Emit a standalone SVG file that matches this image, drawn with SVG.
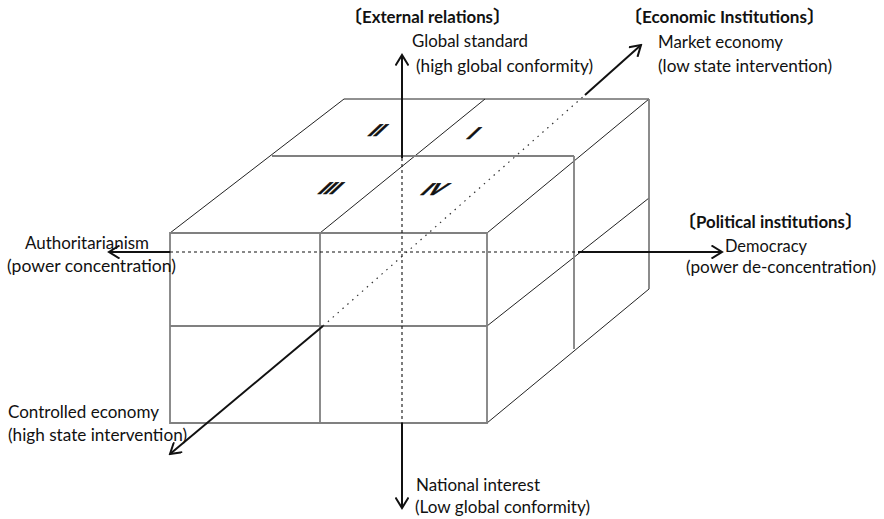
<svg xmlns="http://www.w3.org/2000/svg" width="884" height="519" viewBox="0 0 884 519">
<style>
.bg{fill:#fff}
.face{fill:none;stroke:#808080;stroke-width:1.8}
.edge{fill:none;stroke:#222;stroke-width:1}
.axis{fill:none;stroke:#111;stroke-width:2}
.dash{fill:none;stroke:#111;stroke-width:1.1;stroke-dasharray:3 3}
.dot{fill:none;stroke:#333;stroke-width:1.2;stroke-dasharray:1.5 5}
.lbl{font-family:"Lato","Carlito","Liberation Sans",sans-serif;font-size:17px;fill:#111}
.hdr{font-family:"Lato","Carlito","Liberation Sans",sans-serif;font-size:17px;font-weight:bold;fill:#111}
.br{font-family:"Noto Sans CJK JP",sans-serif;font-size:18px}
.num{font-family:"Liberation Sans",sans-serif;font-size:21px;font-weight:bold;fill:#111;stroke:#111;stroke-width:0.8;text-anchor:middle}
</style>
<defs>
<marker id="arr" viewBox="0 0 14 14" markerWidth="14" markerHeight="14" refX="12" refY="7" orient="auto" markerUnits="userSpaceOnUse">
<path d="M1.5,0.5 L12,7 L1.5,13.5" fill="none" stroke="#111" stroke-width="2"/>
</marker>
</defs>
<rect class="bg" x="0" y="0" width="884" height="519"/>
<g id="cube">
<path class="edge" d="M344,99 H649 M344,99 L170,233 M485,99 L320,233 M649,99 L487,233 M649,198 L487,326 M649,289 L487,423"/>
<path class="face" d="M272,156 H574 M574,156 V349 M649,99 V289"/>
<path class="face" d="M170,233 H487 V423 H170 Z M320,233 V423 M170,326 H487"/>
</g>
<g id="quadrants">
<text class="num" transform="matrix(1,0,-0.85,0.8,372,136)">II</text>
<text class="num" transform="matrix(1,0,-0.85,0.8,468,139)">I</text>
<text class="num" transform="matrix(1,0,-0.85,0.8,325,194)">III</text>
<text class="num" transform="matrix(1,0,-0.85,0.8,429,195)">IV</text>
</g>
<g id="connectors">
<path class="axis" d="M402,158 V55" marker-end="url(#arr)"/>
<path class="dash" d="M402,158 V423"/>
<path class="axis" d="M402,423 V508" marker-end="url(#arr)"/>
<path class="axis" d="M170,252 H109" marker-end="url(#arr)"/>
<path class="dash" d="M170,252 H578"/>
<path class="axis" d="M578,252 H722" marker-end="url(#arr)"/>
<path class="axis" d="M323,326 L170,454" marker-end="url(#arr)"/>
<path class="dot" d="M323,326 L585,95"/>
<path class="axis" d="M585,95 L641,45" marker-end="url(#arr)"/>
</g>
<g id="external-relations">
<text class="hdr" x="344" y="23"><tspan class="br">〔</tspan><tspan textLength="131" lengthAdjust="spacingAndGlyphs">External relations</tspan><tspan class="br">〕</tspan></text>
<text class="lbl" x="412" y="47" textLength="116" lengthAdjust="spacingAndGlyphs">Global standard</text>
<text class="lbl" x="416" y="72" textLength="177" lengthAdjust="spacingAndGlyphs">(high global conformity)</text>
<text class="lbl" x="416" y="491" textLength="124" lengthAdjust="spacingAndGlyphs">National interest</text>
<text class="lbl" x="415" y="513" textLength="175" lengthAdjust="spacingAndGlyphs">(Low global conformity)</text>
</g>
<g id="economic-institutions">
<text class="hdr" x="624" y="23"><tspan class="br">〔</tspan><tspan textLength="165" lengthAdjust="spacingAndGlyphs">Economic Institutions</tspan><tspan class="br">〕</tspan></text>
<text class="lbl" x="658" y="48" textLength="125" lengthAdjust="spacingAndGlyphs">Market economy</text>
<text class="lbl" x="658" y="72" textLength="174" lengthAdjust="spacingAndGlyphs">(low state intervention)</text>
<text class="lbl" x="8" y="418" textLength="151" lengthAdjust="spacingAndGlyphs">Controlled economy</text>
<text class="lbl" x="8" y="441" textLength="179" lengthAdjust="spacingAndGlyphs">(high state intervention)</text>
</g>
<g id="political-institutions">
<text class="hdr" x="678" y="228"><tspan class="br">〔</tspan><tspan textLength="149" lengthAdjust="spacingAndGlyphs">Political institutions</tspan><tspan class="br">〕</tspan></text>
<text class="lbl" x="725" y="252" textLength="82" lengthAdjust="spacingAndGlyphs">Democracy</text>
<text class="lbl" x="686" y="273" textLength="190" lengthAdjust="spacingAndGlyphs">(power de-concentration)</text>
<text class="lbl" x="25" y="249" textLength="124" lengthAdjust="spacingAndGlyphs">Authoritarianism</text>
<text class="lbl" x="7" y="272" textLength="169" lengthAdjust="spacingAndGlyphs">(power concentration)</text>
</g>
</svg>
